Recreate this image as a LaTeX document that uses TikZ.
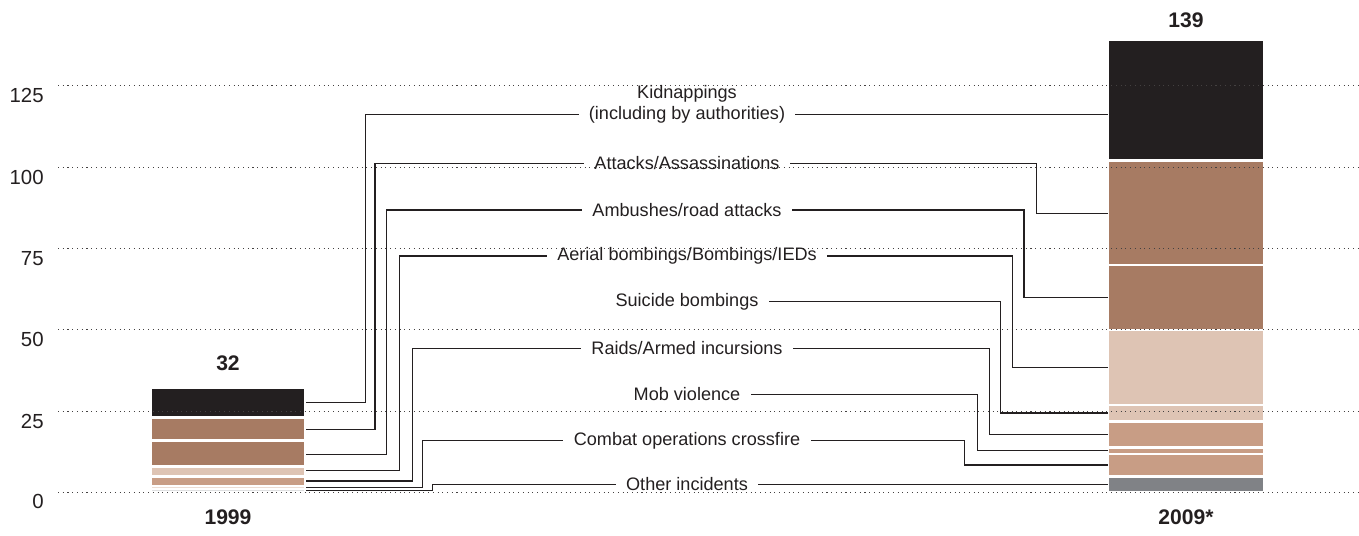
\documentclass[tikz,border=0pt]{standalone}
\usepackage{fontspec}
\setmainfont{Liberation Sans}
\usepackage{tikz}
\usetikzlibrary{calc}

\definecolor{ink}{RGB}{35,31,32}
\definecolor{kidnapcol}{RGB}{35,31,32}
\definecolor{browncol}{RGB}{167,123,99}
\definecolor{lightcol}{RGB}{222,196,180}
\definecolor{tancol}{RGB}{200,157,133}
\definecolor{greycol}{RGB}{128,130,134}

\begin{document}
\begin{tikzpicture}[x=0.02cm,y=-0.02cm,
  gridline/.style={draw=ink!85,line width=0.6pt,dash pattern=on 0.6pt off 2.1pt},
  conn/.style={draw=ink,line width=\heavy},
  lbl/.style={font=\fontsize{10.3}{12}\selectfont,text=ink,inner xsep=5.7pt,inner ysep=0pt},
  tick/.style={font=\fontsize{11.6}{13}\selectfont,text=ink,anchor=east,inner sep=0pt},
  total/.style={font=\fontsize{12}{14}\selectfont\bfseries,text=ink,inner sep=0pt}]

\def \heavy{0.7pt}
\def \gridstart{58}
\def \gridend{1359}
\def \aL{151.7}
\def \aR{304.3}
\def \bL{1109.3}
\def \bR{1262.5}
\def \lx{687}

\useasboundingbox (0,0) rectangle (1359,535);

% 1999 bar
\fill[kidnapcol] (\aL,388.9) rectangle (\aR,416.2);
\fill[browncol] (\aL,419.0) rectangle (\aR,439.1);
\fill[browncol] (\aL,441.8) rectangle (\aR,464.5);
\fill[lightcol] (\aL,467.7) rectangle (\aR,474.5);
\fill[tancol] (\aL,477.7) rectangle (\aR,484.8);
\fill[tancol!35] (\aL,487.0) rectangle (\aR,488.3);
\fill[greycol!25] (\aL,489.5) rectangle (\aR,490.8);

% 2009 bar
\fill[kidnapcol] (\bL,40.9) rectangle (\bR,159.3);
\fill[browncol] (\bL,162.1) rectangle (\bR,263.7);
\fill[browncol] (\bL,266.1) rectangle (\bR,328.6);
\fill[lightcol] (\bL,330.9) rectangle (\bR,403.5);
\fill[lightcol] (\bL,406.0) rectangle (\bR,420.2);
\fill[tancol] (\bL,422.5) rectangle (\bR,446.2);
\fill[tancol] (\bL,448.6) rectangle (\bR,452.5);
\fill[tancol] (\bL,455.0) rectangle (\bR,475.2);
\fill[greycol] (\bL,477.7) rectangle (\bR,490.9);

% grid and axis
\draw[gridline] (\gridstart,492.2) -- (\gridend,492.2);
\draw[gridline] (\gridstart,411.5) -- (\gridend,411.5);
\draw[gridline] (\gridstart,329.9) -- (\gridend,329.9);
\draw[gridline] (\gridstart,248.7) -- (\gridend,248.7);
\draw[gridline] (\gridstart,167.2) -- (\gridend,167.2);
\draw[gridline] (\gridstart,85.6) -- (\gridend,85.6);

\node[tick] (t0) at (44,501.5) {0};
\node[tick] (t25) at (44,421.3) {25};
\node[tick] (t50) at (44,339.9) {50};
\node[tick] (t75) at (44,258.6) {75};
\node[tick] (t100) at (44,177.1) {100};
\node[tick] (t125) at (44,95.5) {125};

\node[total] (n99) at (228,363.4) {32};
\node[total] (n09) at (1186,20) {139};
\node[total] (y99) at (228,517) {1999};
\node[total] (y09) at (1186,517) {2009*};

% labels
\node[lbl] (kid) at (\lx,114.5) {(including by authorities)};
\node[lbl] (kidtop) at (\lx,94) {Kidnappings};
\node[lbl] (att) at (\lx,163.3) {Attacks/Assassinations};
\node[lbl] (amb) at (\lx,210) {Ambushes/road attacks};
\node[lbl] (aer) at (\lx,256) {Aerial bombings/Bombings/IEDs};
\node[lbl] (sui) at (\lx,301.7) {Suicide bombings};
\node[lbl] (rai) at (\lx,348.3) {Raids/Armed incursions};
\node[lbl] (mob) at (\lx,394.3) {Mob violence};
\node[lbl] (com) at (\lx,440.7) {Combat operations crossfire};
\node[lbl] (oth) at (\lx,484.5) {Other incidents};

% ends at the bars
\coordinate (k99) at (306,402.6);
\coordinate (a99) at (306,429.2);
\coordinate (b99) at (306,454.8);
\coordinate (e99) at (306,470.8);
\coordinate (r99) at (306,481.1);
\coordinate (c99) at (306,487.6);
\coordinate (o99) at (306,490.3);

\coordinate (k09) at (1108,100);
\coordinate (a09) at (1108,213.3);
\coordinate (b09) at (1108,297.4);
\coordinate (e09) at (1108,367.3);
\coordinate (s09) at (1108,413);
\coordinate (r09) at (1108,434.3);
\coordinate (m09) at (1108,450.5);
\coordinate (c09) at (1108,465.1);
\coordinate (o09) at (1108,484.5);

\draw[conn] (k99) -- ++(59.3,0) |- (kid.west);
\draw[conn] (a99) -- ++(69,0) |- (att.west);
\draw[conn] (b99) -- ++(80.7,0) |- (amb.west);
\draw[conn] (e99) -- ++(93.3,0) |- (aer.west);
\draw[conn] (r99) -- ++(106.3,0) |- (rai.west);
\draw[conn] (c99) -- ++(116.3,0) |- (com.west);
\draw[conn] (o99) -- ++(126.3,0) |- (oth.west);

\draw[conn] (kid.east) -- (kid.east -| k09);
\draw[conn] (a09) -- ++(-71.3,0) |- (att.east);
\draw[conn] (b09) -- ++(-84,0) |- (amb.east);
\draw[conn] (e09) -- ++(-95.3,0) |- (aer.east);
\draw[conn] (s09) -- ++(-107.3,0) |- (sui.east);
\draw[conn] (r09) -- ++(-118.7,0) |- (rai.east);
\draw[conn] (m09) -- ++(-130.7,0) |- (mob.east);
\draw[conn] (c09) -- ++(-143.7,0) |- (com.east);
\draw[conn] (oth.east) -- (oth.east -| o09);

\end{tikzpicture}
\end{document}
